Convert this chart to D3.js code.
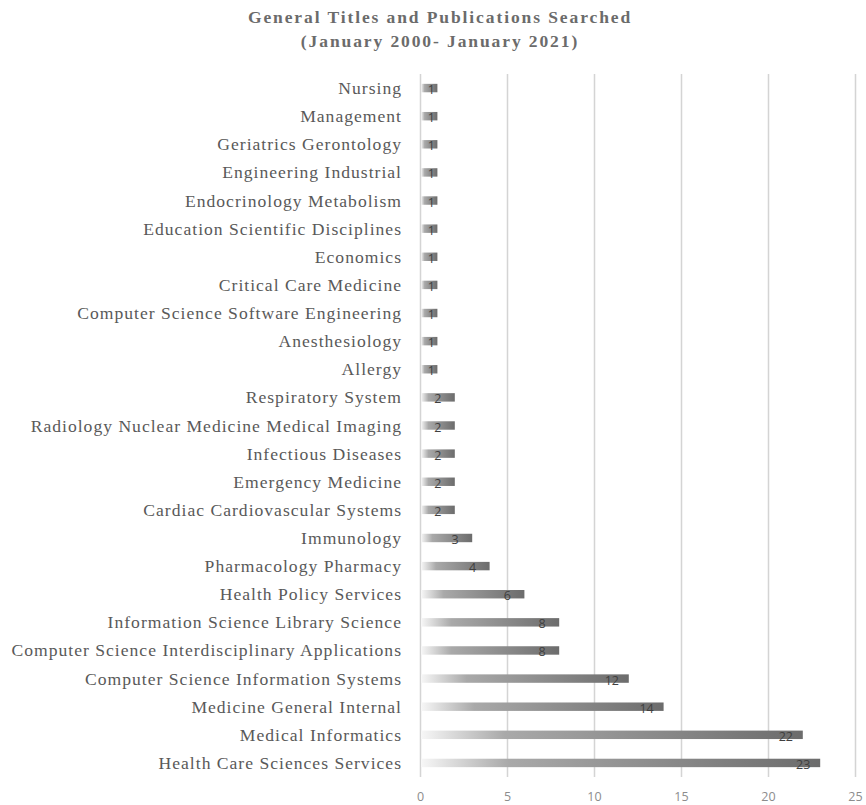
<!DOCTYPE html>
<html>
<head>
<meta charset="utf-8">
<script src="https://cdn.jsdelivr.net/npm/d3@7"></script>
<style>
  body { margin: 0; background: #fff; }
  .cat { font-family: "Liberation Serif", "Times New Roman", serif; font-size: 17.6px; fill: #595959; letter-spacing: 1px; }
  .title { font-family: "Liberation Serif", serif; font-size: 17.5px; font-weight: bold; fill: #6b6b6b; letter-spacing: 1.9px; }
  .tick text { font-family: "Open Sans", "Liberation Sans", sans-serif; font-size: 12.5px; fill: #8c8c8c; }
  .val { font-family: "Open Sans", "Liberation Sans", sans-serif; font-size: 12.5px; fill: #404040; }
</style>
</head>
<body>
<div id="chart"></div>
<script>
// categorie dall'alto in basso
const categories = [
  "Nursing", "Management", "Geriatrics Gerontology", "Engineering Industrial",
  "Endocrinology Metabolism", "Education Scientific Disciplines", "Economics",
  "Critical Care Medicine", "Computer Science Software Engineering", "Anesthesiology",
  "Allergy", "Respiratory System", "Radiology Nuclear Medicine Medical Imaging",
  "Infectious Diseases", "Emergency Medicine", "Cardiac Cardiovascular Systems",
  "Immunology", "Pharmacology Pharmacy", "Health Policy Services",
  "Information Science Library Science", "Computer Science Interdisciplinary Applications",
  "Computer Science Information Systems", "Medicine General Internal",
  "Medical Informatics", "Health Care Sciences Services"
];
const counts = [1, 1, 1, 1, 1, 1, 1, 1, 1, 1, 1, 2, 2, 2, 2, 2, 3, 4, 6, 8, 8, 12, 14, 22, 23];
const xTicks = [0, 5, 10, 15, 20, 25];
const titleLines = ["General Titles and Publications Searched", "(January 2000- January 2021)"];

const width = 866, height = 805;
const margin = { top: 74, right: 11, bottom: 28, left: 420 };

const svg = d3.select("#chart").append("svg")
  .attr("width", width).attr("height", height);

// gradiente delle barre
const grad = svg.append("defs").append("linearGradient")
  .attr("id", "barGrad").attr("x1", "0%").attr("x2", "100%").attr("y1", "0%").attr("y2", "0%");
grad.append("stop").attr("offset", "0%").attr("stop-color", "#f7f7f7");
grad.append("stop").attr("offset", "22%").attr("stop-color", "#a9a9a9");
grad.append("stop").attr("offset", "100%").attr("stop-color", "#6c6c6c");

const x = d3.scaleLinear().domain([0, 25]).range([margin.left, width - margin.right]);
const y = d3.scaleBand().domain(categories)
  .range([margin.top, height - margin.bottom]).paddingInner(0.7).paddingOuter(0.35);

// griglia verticale
svg.append("g")
  .attr("transform", `translate(0,${height - margin.bottom})`)
  .call(d3.axisBottom(x).tickValues(xTicks).tickSize(-(height - margin.bottom - margin.top)).tickFormat(""))
  .call(g => g.select(".domain").remove())
  .call(g => g.selectAll(".tick line").attr("stroke", "#d4d4d4").attr("stroke-width", 1.5));

// etichette asse x
svg.append("g")
  .attr("transform", `translate(0,${height - margin.bottom})`)
  .call(d3.axisBottom(x).tickValues(xTicks).tickSize(0).tickPadding(15))
  .call(g => g.select(".domain").remove());

// barre
svg.append("g").selectAll("rect")
  .data(categories)
  .join("rect")
  .attr("x", x(0) + 1)
  .attr("y", (d, i) => y(d))
  .attr("width", (d, i) => x(counts[i]) - x(0) - 1)
  .attr("height", y.bandwidth())
  .attr("fill", "url(#barGrad)");

// valori
svg.append("g").selectAll("text")
  .data(categories)
  .join("text")
  .attr("class", "val")
  .attr("x", (d, i) => counts[i] === 1 ? x(counts[i]) - 6 : x(counts[i]) - 17)
  .attr("y", (d, i) => y(d) + y.bandwidth() / 2 + 6)
  .attr("text-anchor", "middle")
  .text((d, i) => counts[i]);

// categorie
svg.append("g").selectAll("text")
  .data(categories)
  .join("text")
  .attr("class", "cat")
  .attr("x", 402)
  .attr("y", d => y(d) + y.bandwidth() / 2 + 6)
  .attr("text-anchor", "end")
  .text(d => d);

// titolo
svg.append("g").selectAll("text")
  .data(titleLines)
  .join("text")
  .attr("class", "title")
  .attr("x", 440)
  .attr("y", (d, i) => 23 + i * 24)
  .attr("text-anchor", "middle")
  .text(d => d);
</script>
</body>
</html>
